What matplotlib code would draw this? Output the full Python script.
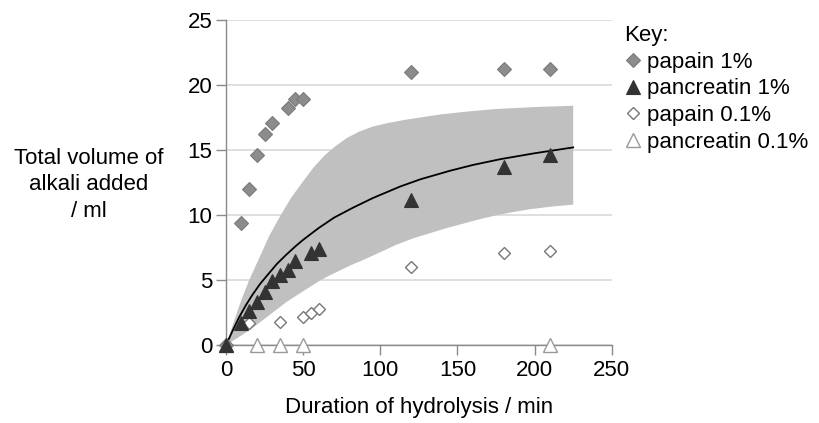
import numpy as np
import matplotlib.pyplot as plt

plt.rcParams['font.family'] = ['Liberation Sans', 'DejaVu Sans']

# Define data.
papain_1_x = [0, 10, 15, 20, 25, 30, 40, 45, 50, 120, 180, 210]
papain_1_y = [0, 9.4, 12.0, 14.6, 16.2, 17.1, 18.2, 18.9, 18.9, 21.0, 21.2, 21.2]

pancreatin_1_x = [0, 10, 15, 20, 25, 30, 35, 40, 45, 55, 60, 120, 180, 210]
pancreatin_1_y = [0, 1.7, 2.6, 3.3, 4.1, 4.9, 5.4, 5.8, 6.5, 7.05, 7.4, 11.15, 13.7, 14.6]

papain_01_x = [0, 15, 35, 50, 55, 60, 120, 180, 210]
papain_01_y = [0, 1.7, 1.8, 2.2, 2.5, 2.8, 6.0, 7.1, 7.25]

pancreatin_01_x = [0, 20, 35, 50, 210]
pancreatin_01_y = [0, 0, 0, 0, 0]

# Fitted curve and shaded range.
curve_x = [0, 4, 8.5, 13, 17, 22, 28, 33, 39, 45, 50, 55, 60, 70, 82, 95, 104,
           113, 126, 145, 160, 178, 200, 225]
curve_y = [0, 1.05, 2.15, 3.1, 3.85, 4.7, 5.55, 6.25, 6.95, 7.6, 8.1, 8.55, 9.0,
           9.8, 10.55, 11.3, 11.75, 12.2, 12.75, 13.4, 13.85, 14.3, 14.75, 15.2]

upper_x = [0, 5, 10, 15, 20, 28, 35, 42, 50, 57, 64, 71, 78, 86, 95, 104, 115,
           126, 140, 156, 175, 200, 225]
upper_y = [0, 1.8, 3.5, 5.0, 6.3, 8.4, 9.9, 11.3, 12.6, 13.7, 14.6, 15.3, 15.9,
           16.4, 16.8, 17.05, 17.3, 17.5, 17.75, 17.95, 18.15, 18.3, 18.4]
lower_x = [0, 10, 17, 28, 39, 50, 60, 67, 80, 89, 100, 110, 121, 132, 143, 154,
           165, 176, 187, 197, 211, 225]
lower_y = [0, 0.75, 1.3, 2.3, 3.3, 4.15, 4.9, 5.35, 6.1, 6.55, 7.15, 7.7, 8.2,
           8.6, 9.0, 9.35, 9.7, 10.0, 10.25, 10.45, 10.65, 10.8]

x_ticks = [0, 50, 100, 150, 200, 250]
y_ticks = [0, 5, 10, 15, 20, 25]

# Make plot.
fig = plt.figure(figsize=(8.19, 4.23), dpi=100)
ax = fig.add_axes([0.276, 0.184, 0.471, 0.769])

band_x = np.concatenate([upper_x, lower_x[::-1]])
band_y = np.concatenate([upper_y, lower_y[::-1]])
ax.fill(band_x, band_y, color='#c0c0c0', lw=0, zorder=1)
ax.plot(curve_x, curve_y, color='black', lw=1.3, zorder=2)

h4, = ax.plot(pancreatin_01_x, pancreatin_01_y, '^', ms=9.5, mfc='white',
              mec='#999999', mew=1.0, ls='none', clip_on=False, zorder=3)
h3, = ax.plot(papain_01_x, papain_01_y, 'D', ms=6.5, mfc='white',
              mec='#777777', mew=1.0, ls='none', clip_on=False, zorder=4)
h1, = ax.plot(papain_1_x, papain_1_y, 'D', ms=6.8, mfc='#8c8c8c',
              mec='#7a7a7a', mew=0.8, ls='none', clip_on=False, zorder=5)
h2, = ax.plot(pancreatin_1_x, pancreatin_1_y, '^', ms=9.5, mfc='#333333',
              mec='#333333', mew=0.8, ls='none', clip_on=False, zorder=6)

# Customize plot.
fs = 16
ax.set_xlim(0, 250)
ax.set_ylim(0, 25)
ax.set_xticks(x_ticks)
ax.set_yticks(y_ticks)
ax.yaxis.grid(True, color='#d9d9d9', lw=1.2)
ax.set_axisbelow(True)
for side in ['top', 'right']:
    ax.spines[side].set_visible(False)
for side in ['left', 'bottom']:
    ax.spines[side].set_color('#8a8a8a')
    ax.spines[side].set_linewidth(1.0)
ax.tick_params(axis='both', labelsize=fs, colors='#8a8a8a', labelcolor='black',
               length=7, width=1.0)
ax.tick_params(axis='x', pad=4)
ax.tick_params(axis='y', pad=3)

ax.set_xlabel('Duration of hydrolysis / min', fontsize=fs, labelpad=11)
fig.text(0.108, 0.563, 'Total volume of\nalkali added\n/ ml', fontsize=fs,
         ha='center', va='center', linespacing=1.35)

ax.legend([h1, h2, h3, h4],
          ['papain 1%', 'pancreatin 1%', 'papain 0.1%', 'pancreatin 0.1%'],
          loc='upper left', bbox_to_anchor=(0.762, 0.94),
          bbox_transform=fig.transFigure, title='Key:', alignment='left',
          frameon=False, fontsize=fs, title_fontsize=fs,
          handlelength=0.8, handletextpad=0.25, labelspacing=0.25,
          borderpad=0, borderaxespad=0)

plt.savefig('out.png', dpi=100)
